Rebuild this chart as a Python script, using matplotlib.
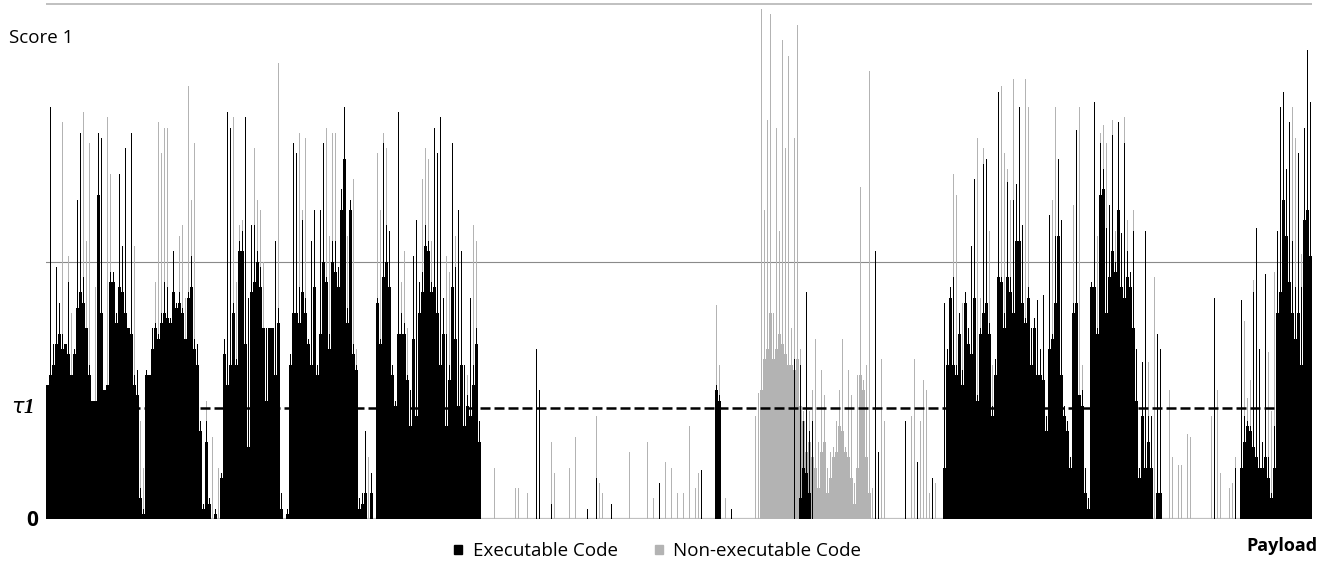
import numpy as np
import matplotlib.pyplot as plt
from matplotlib.patches import Rectangle

# one column = one payload position (about 3 px in the reference)
# scores, 0..1 (gridline at 0.5)
exec_peak = [
    0.26, 0.80, 0.34, 0.49, 0.42, 0.36, 0.34, 0.46, 0.28, 0.33,
    0.62, 0.75, 0.47, 0.37, 0.30, 0.23, 0.23, 0.75, 0.74, 0.25,
    0.26, 0.48, 0.48, 0.40, 0.67, 0.53, 0.72, 0.37, 0.75, 0.28,
    0.29, 0.06, 0.02, 0.29, 0.28, 0.37, 0.38, 0.36, 0.40, 0.46,
    0.45, 0.39, 0.52, 0.42, 0.44, 0.41, 0.35, 0.44, 0.51, 0.35,
    0.34, 0.19, 0.03, 0.19, 0.04, 0, 0.02, 0, 0.09, 0.35,
    0.79, 0.76, 0.42, 0.31, 0.54, 0.56, 0.78, 0.43, 0.57, 0.57,
    0.52, 0.49, 0.37, 0.37, 0.37, 0.37, 0.54, 0.41, 0.05, 0,
    0.02, 0.32, 0.73, 0.71, 0.45, 0.58, 0.43, 0.35, 0.54, 0.60,
    0.30, 0.60, 0.73, 0.47, 0.36, 0.54, 0.54, 0.49, 0.64, 0.80,
    0.41, 0.62, 0.34, 0.30, 0.04, 0.05, 0.17, 0, 0.09, 0,
    0.43, 0.35, 0.73, 0.57, 0.56, 0.30, 0.23, 0.79, 0.40, 0.38,
    0.28, 0.25, 0.51, 0.58, 0.46, 0.48, 0.57, 0.54, 0.46, 0.76,
    0.71, 0.78, 0.43, 0.36, 0.30, 0.73, 0.49, 0.60, 0.52, 0.30,
    0.24, 0.43, 0.30, 0.37, 0.19, 0, 0, 0, 0, 0,
    0, 0, 0, 0, 0, 0, 0, 0, 0, 0,
    0, 0, 0, 0.33, 0.25, 0, 0, 0, 0.03, 0,
    0, 0, 0, 0, 0, 0, 0, 0, 0, 0,
    0.02, 0, 0, 0.08, 0, 0, 0, 0, 0.03, 0,
    0, 0, 0, 0, 0, 0, 0, 0, 0, 0,
    0, 0, 0, 0, 0.07, 0, 0, 0, 0, 0,
    0, 0, 0, 0, 0, 0, 0, 0, 0.095, 0,
    0, 0, 0, 0.26, 0.24, 0, 0, 0, 0.02, 0,
    0, 0, 0, 0, 0, 0, 0, 0, 0, 0,
    0, 0, 0, 0, 0, 0, 0, 0, 0, 0.31,
    0, 0.30, 0.19, 0.44, 0.17, 0.19, 0, 0, 0, 0,
    0, 0, 0, 0, 0, 0, 0, 0, 0, 0,
    0, 0, 0, 0, 0, 0, 0.52, 0.13, 0, 0,
    0, 0, 0, 0, 0, 0, 0.19, 0, 0, 0,
    0.11, 0, 0, 0, 0, 0.08, 0, 0, 0, 0.42,
    0.33, 0.45, 0.47, 0.30, 0.40, 0.29, 0.44, 0.37, 0.53, 0.66,
    0.24, 0.37, 0.69, 0.70, 0.38, 0.22, 0.31, 0.83, 0.47, 0.40,
    0.655, 0.47, 0.62, 0.65, 0.80, 0.57, 0.39, 0.45, 0.37, 0.39,
    0.425, 0.33, 0.435, 0.20, 0.59, 0.36, 0.55, 0.70, 0.58, 0.22,
    0.19, 0.12, 0.42, 0.755, 0.24, 0.25, 0.10, 0.04, 0.46, 0.81,
    0.37, 0.73, 0.68, 0.565, 0.61, 0.745, 0.50, 0.77, 0.555, 0.73,
    0.52, 0.48, 0.56, 0.33, 0.10, 0.305, 0.56, 0.20, 0.20, 0,
    0.36, 0.33, 0, 0, 0, 0, 0, 0, 0, 0,
    0, 0, 0, 0, 0, 0, 0, 0, 0, 0.43,
    0, 0, 0, 0, 0, 0, 0.10, 0, 0.425, 0.20,
    0.19, 0.18, 0.44, 0.565, 0.33, 0.15, 0.475, 0.12, 0.05, 0.18,
    0.56, 0.80, 0.83, 0.68, 0.77, 0.54, 0.45, 0.71, 0.45, 0.76,
    0.91, 0.81,
]

exec_body = [
    0.26, 0.28, 0.30, 0.34, 0.36, 0.33, 0.34, 0.32, 0.28, 0.32,
    0.41, 0.44, 0.42, 0.37, 0.28, 0.23, 0.23, 0.63, 0.40, 0.25,
    0.26, 0.46, 0.46, 0.38, 0.45, 0.44, 0.40, 0.37, 0.36, 0.26,
    0.24, 0.04, 0.01, 0.28, 0.28, 0.33, 0.37, 0.35, 0.38, 0.40,
    0.39, 0.38, 0.44, 0.41, 0.42, 0.40, 0.35, 0.43, 0.45, 0.33,
    0.30, 0.17, 0.02, 0.15, 0.03, 0, 0.01, 0, 0.08, 0.32,
    0.26, 0.30, 0.40, 0.30, 0.52, 0.52, 0.34, 0.14, 0.44, 0.46,
    0.50, 0.45, 0.37, 0.23, 0.37, 0.37, 0.28, 0.38, 0.02, 0,
    0.01, 0.30, 0.40, 0.40, 0.38, 0.44, 0.40, 0.34, 0.30, 0.45,
    0.28, 0.36, 0.50, 0.46, 0.33, 0.50, 0.48, 0.45, 0.60, 0.70,
    0.38, 0.60, 0.32, 0.29, 0.02, 0.03, 0.05, 0, 0.05, 0,
    0.42, 0.34, 0.47, 0.50, 0.45, 0.28, 0.22, 0.36, 0.36, 0.36,
    0.27, 0.18, 0.35, 0.20, 0.40, 0.44, 0.53, 0.52, 0.44, 0.45,
    0.40, 0.30, 0.36, 0.18, 0.27, 0.45, 0.35, 0.22, 0.30, 0.18,
    0.22, 0.20, 0.26, 0.34, 0.15,
] + [0] * 78 + [
    0.25, 0.23,
] + [0] * 26 + [
    0.04, 0.10, 0.09, 0.05, 0,
] + [0] * 43 + [
    0.10,
    0.30, 0.43, 0.30, 0.28, 0.36, 0.26, 0.42, 0.34, 0.32, 0.43,
    0.23, 0.36, 0.40, 0.42, 0.36, 0.20, 0.28, 0.47, 0.46, 0.37,
    0.47, 0.44, 0.40, 0.54, 0.54, 0.42, 0.38, 0.43, 0.30, 0.37,
    0.28, 0.28, 0.27, 0.17, 0.33, 0.35, 0.42, 0.55, 0.28, 0.20,
    0.17, 0.10, 0.40, 0.42, 0.24, 0.22, 0.05, 0.02, 0.45, 0.45,
    0.36, 0.63, 0.64, 0.40, 0.47, 0.52, 0.48, 0.60, 0.45, 0.43,
    0.47, 0.45, 0.37, 0.23, 0.08, 0.20, 0.10, 0.15, 0.10, 0,
    0.05, 0.05,
] + [0] * 26 + [
    0.10, 0.15,
    0.18, 0.17, 0.14, 0.12, 0.10, 0.10, 0.12, 0.08, 0.04, 0.10,
    0.40, 0.44, 0.62, 0.55, 0.46, 0.40, 0.35, 0.40, 0.30, 0.58,
    0.60, 0.51,
]

nonexec_peak = [
    0, 0, 0.30, 0, 0, 0.77, 0, 0.51, 0.40, 0,
    0, 0, 0.79, 0.54, 0.73, 0, 0.45, 0, 0, 0,
    0.78, 0.67, 0, 0, 0.53, 0, 0, 0, 0, 0.53,
    0, 0.19, 0.10, 0, 0, 0, 0.46, 0.77, 0.71, 0.76,
    0.76, 0, 0, 0, 0.55, 0.57, 0.43, 0.84, 0.62, 0.73,
    0, 0, 0, 0.23, 0, 0.16, 0, 0.10, 0, 0,
    0.54, 0.76, 0.78, 0.46, 0.57, 0.58, 0, 0, 0, 0.72,
    0.62, 0.60, 0.50, 0, 0, 0, 0, 0.885, 0, 0,
    0, 0, 0, 0, 0.75, 0.60, 0.74, 0, 0, 0,
    0, 0, 0.51, 0.76, 0.55, 0.75, 0.75, 0, 0, 0,
    0.55, 0, 0.66, 0.33, 0, 0, 0, 0.12, 0, 0,
    0.71, 0.60, 0.75, 0.72, 0, 0, 0, 0, 0.46, 0.52,
    0.37, 0, 0, 0, 0, 0.66, 0.72, 0.70, 0.54, 0,
    0, 0, 0, 0.51, 0.48, 0, 0.55, 0, 0, 0,
    0.28, 0, 0.57, 0.54, 0.10, 0, 0, 0, 0, 0.10,
    0, 0, 0, 0, 0, 0, 0.06, 0.06, 0, 0,
    0.05, 0, 0, 0, 0, 0, 0, 0, 0.15, 0.09,
    0, 0, 0, 0, 0.10, 0, 0.16, 0, 0, 0,
    0, 0, 0, 0.20, 0.07, 0.05, 0, 0, 0, 0,
    0, 0, 0, 0, 0.13, 0, 0, 0, 0, 0,
    0.15, 0, 0.04, 0, 0, 0, 0.11, 0, 0.10, 0,
    0.05, 0, 0.05, 0, 0.18, 0, 0.06, 0.09, 0, 0,
    0, 0, 0, 0.415, 0.30, 0, 0.04, 0, 0, 0,
    0, 0, 0, 0, 0, 0, 0.20, 0.245, 0.99, 0.60,
    0.775, 0.98, 0.40, 0.76, 0.56, 0.93, 0.72, 0.90, 0.37, 0.74,
    0.96, 0.33, 0.21, 0.20, 0.21, 0.25, 0.35, 0.15, 0.29, 0.24,
    0.10, 0.13, 0.14, 0.19, 0.25, 0.35, 0.14, 0.29, 0.24, 0.07,
    0.28, 0.645, 0.27, 0.30, 0.87, 0.06, 0, 0, 0.31, 0.19,
    0, 0, 0, 0, 0, 0, 0, 0, 0.20, 0.31,
    0, 0.19, 0.27, 0.25, 0.05, 0, 0.07, 0, 0, 0,
    0.32, 0, 0.67, 0.63, 0.40, 0.42, 0, 0, 0, 0.45,
    0.74, 0.43, 0.72, 0.70, 0.56, 0.30, 0, 0.48, 0.84, 0.71,
    0.68, 0.62, 0.855, 0, 0, 0, 0.855, 0.80, 0.26, 0,
    0, 0, 0, 0, 0.35, 0.62, 0.80, 0, 0, 0.21,
    0.19, 0, 0.61, 0.55, 0.80, 0.30, 0, 0, 0, 0.72,
    0.55, 0.75, 0.765, 0.73, 0, 0.775, 0.56, 0, 0, 0.78,
    0.58, 0, 0.60, 0, 0, 0, 0.305, 0.305, 0.13, 0.47,
    0, 0, 0, 0, 0.25, 0.12, 0, 0.105, 0.105, 0,
    0.165, 0.16, 0, 0, 0, 0, 0, 0, 0.20, 0.17,
    0.25, 0.09, 0, 0, 0.06, 0.07, 0.12, 0, 0.40, 0.385,
    0.235, 0.27, 0.465, 0, 0.20, 0, 0.38, 0.325, 0.21, 0.48,
    0.26, 0, 0, 0.30, 0, 0.80, 0.74, 0.47, 0.515, 0,
    0, 0,
]

nonexec_body = [0] * 238 + [
    0.25, 0.31,
    0.33, 0.40, 0.31, 0.33, 0.36, 0.34, 0.32, 0.30, 0.30, 0.29,
    0.31, 0.22, 0.19, 0.13, 0.15, 0.12, 0.10, 0.06, 0.13, 0.15,
    0.05, 0.08, 0.12, 0.13, 0.18, 0.17, 0.13, 0.12, 0.08, 0.03,
    0.10, 0.28, 0.25, 0.12, 0.05,
] + [0] * 147

tau1 = 0.215
series_labels = ["Executable Code", "Non-executable Code"]

BLACK = "#000000"
GRAY = "#b3b3b3"

W, H = 1319, 562
fig = plt.figure(figsize=(W / 100, H / 100), dpi=100)
ax = fig.add_axes([46 / W, (H - 519) / H, 1266 / W, 517 / H])

x = np.arange(len(exec_peak))
ax.axhline(0, color="#c0c0c0", lw=1.6, zorder=0)
ax.axhline(1.0, color="#c0c0c0", lw=1.4, zorder=0)
ax.axhline(0.5, color="#8a8a8a", lw=0.8, zorder=0)

ax.bar(x, nonexec_body, width=1.0, color=GRAY, linewidth=0, zorder=1)
ax.bar(x, nonexec_peak, width=0.45, color=GRAY, linewidth=0, zorder=1)
ax.bar(x, exec_body, width=1.0, color=BLACK, linewidth=0, zorder=2)
ax.bar(x, exec_peak, width=0.45, color=BLACK, linewidth=0, zorder=2)

ax.axhline(tau1, color=BLACK, lw=1.8, linestyle=(0, (4, 1.6)), zorder=3)

ax.set_xlim(-0.5, len(exec_peak) - 0.5)
ax.set_ylim(0, 1.004)
ax.axis("off")

font = "Open Sans"
fig.text(9 / W, 1 - 38 / H, "Score 1", fontsize=13.5, family=font, va="center", ha="left")
fig.text(38 / W, 1 - 521 / H, "0", fontsize=15, family=font, fontweight="bold",
         va="center", ha="right")
fig.text(11 / W, 1 - 408 / H, r"$\tau$1", fontsize=15, family="Liberation Serif",
         style="italic", fontweight="bold", va="center", ha="left")
fig.text(1317 / W, 1 - 546 / H, "Payload", fontsize=13, family=font, fontweight="bold",
         va="center", ha="right")

# legend squares and labels
for sx, tx, col, lab in [(454, 473, BLACK, series_labels[0]), (655, 673, GRAY, series_labels[1])]:
    fig.patches.append(Rectangle((sx / W, 1 - 554 / H), 8 / W, 9 / H, color=col,
                                 transform=fig.transFigure, figure=fig))
    fig.text(tx / W, 1 - 551 / H, lab, fontsize=13.5, family=font, va="center", ha="left")

fig.savefig("out.png", dpi=100)
